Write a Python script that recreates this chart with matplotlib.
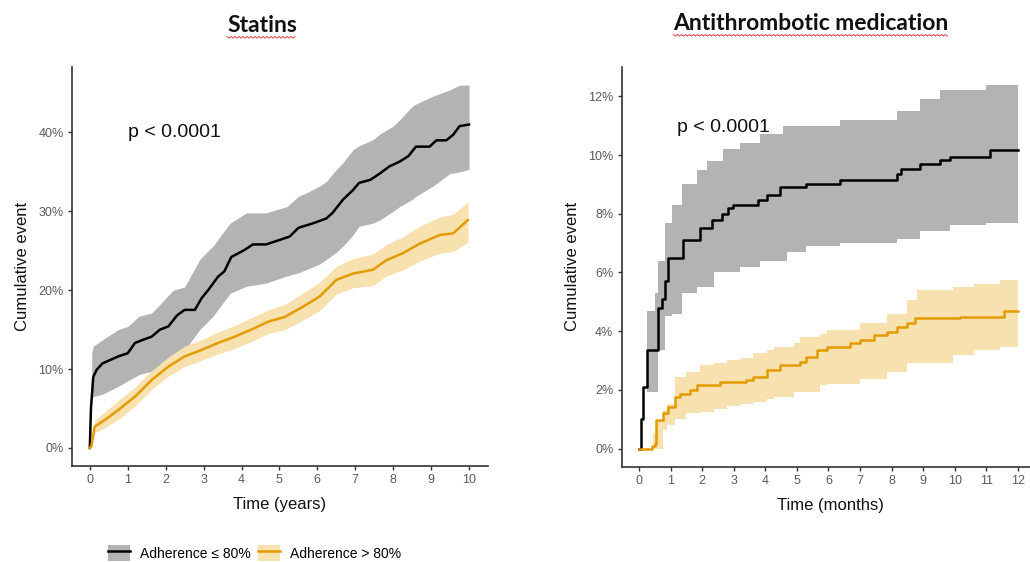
import numpy as np
import matplotlib
matplotlib.use("Agg")
import matplotlib.pyplot as plt
from matplotlib.patches import Patch
from matplotlib.lines import Line2D
from matplotlib.ticker import FuncFormatter

# ---------------- Data ----------------
# Statins (years, cumulative event %)
st_low_t = [0, 0.03, 0.09, 0.18, 0.33, 0.75, 1.0, 1.19, 1.4, 1.63, 1.85, 2.07, 2.3, 2.5, 2.77, 2.95, 3.12,
            3.38, 3.55, 3.73, 4.08, 4.3, 4.65, 4.9, 5.27, 5.5, 5.9, 6.24, 6.4, 6.68, 6.94, 7.1, 7.4, 7.65, 7.9,
            8.17, 8.4, 8.6, 8.96, 9.14, 9.4, 9.58, 9.75, 10.0]
st_low_y = [0, 5.0, 9.0, 9.9, 10.7, 11.6, 12.0, 13.3, 13.7, 14.1, 15.0, 15.4, 16.8, 17.5, 17.5, 19.0, 20.0,
            21.7, 22.4, 24.2, 25.1, 25.8, 25.8, 26.2, 26.8, 27.9, 28.5, 29.1, 29.8, 31.5, 32.7, 33.6, 34.0,
            34.8, 35.7, 36.3, 37.0, 38.2, 38.2, 39.0, 39.0, 39.7, 40.8, 41.0]
st_low_ci_t = [0.05, 0.09, 0.33, 0.75, 1.0, 1.3, 1.63, 1.85, 2.2, 2.5, 2.9, 3.25, 3.7, 4.13, 4.65, 5.2, 5.5,
               5.7, 6.06, 6.24, 6.5, 6.68, 6.94, 7.1, 7.47, 7.65, 8.0, 8.17, 8.5, 8.6, 9.05, 9.5, 9.75, 10.0]
st_low_ci_hi = [12.0, 12.9, 13.7, 15.0, 15.4, 16.7, 17.1, 18.2, 20.0, 20.4, 23.9, 25.6, 28.5, 29.8, 29.8,
                30.6, 31.9, 32.3, 33.2, 33.8, 35.3, 36.2, 37.8, 38.3, 39.1, 39.8, 40.8, 41.6, 43.3, 43.6, 44.6,
                45.4, 46.0, 46.0]
st_low_ci_lo = [6.0, 6.5, 6.8, 7.8, 8.5, 9.3, 9.7, 10.5, 11.2, 12.4, 15.0, 16.7, 19.6, 20.5, 20.9, 21.8,
                22.2, 22.6, 23.3, 23.9, 24.8, 25.6, 27.0, 28.1, 28.5, 28.9, 30.0, 30.6, 31.5, 31.9, 33.2, 34.8,
                35.0, 35.3]

st_high_t = [0, 0.04, 0.13, 0.4, 0.75, 1.19, 1.63, 2.07, 2.5, 2.94, 3.38, 3.82, 4.26, 4.7, 5.14, 5.62, 6.06,
             6.5, 6.94, 7.47, 7.82, 8.26, 8.7, 9.23, 9.58, 9.97]
st_high_y = [0, 0.2, 2.7, 3.55, 4.8, 6.5, 8.6, 10.3, 11.6, 12.4, 13.3, 14.1, 15.0, 16.0, 16.6, 17.9, 19.2,
             21.3, 22.1, 22.6, 23.8, 24.7, 25.9, 27.0, 27.2, 28.9]
st_high_ci_t = [0.04, 0.13, 0.4, 0.75, 1.19, 1.63, 2.07, 2.5, 2.94, 3.38, 3.82, 4.26, 4.7, 5.14, 5.62, 6.06,
                6.5, 6.94, 7.47, 7.82, 8.26, 8.7, 9.23, 9.58, 9.97]
st_high_ci_hi = [0.6, 3.5, 4.6, 6.0, 7.7, 9.8, 11.5, 12.9, 13.7, 14.7, 15.5, 16.5, 17.5, 18.2, 19.6, 21.0,
                 23.0, 24.0, 24.6, 25.8, 26.8, 28.1, 29.3, 29.6, 31.2]
st_high_ci_lo = [0.0, 1.9, 2.6, 3.6, 5.3, 7.4, 9.1, 10.3, 11.1, 11.9, 12.6, 13.5, 14.5, 15.0, 16.2, 17.4,
                 19.5, 20.3, 20.6, 21.8, 22.6, 23.7, 24.7, 24.9, 26.1]

# Antithrombotic medication (months, cumulative event %)
at_low_t = [0, 0.05, 0.14, 0.24, 0.5, 0.6, 0.72, 0.82, 0.93, 1.19, 1.4, 1.83, 1.93, 2.3, 2.62, 2.83, 2.99,
            3.78, 4.05, 4.47, 5.3, 6.37, 8.17, 8.3, 8.9, 9.54, 9.86, 11.12, 12.0]
at_low_y = [0, 1.0, 2.1, 3.35, 3.35, 4.8, 5.1, 5.7, 6.5, 6.5, 7.1, 7.1, 7.5, 7.8, 8.0, 8.2, 8.3, 8.46, 8.63,
            8.9, 9.03, 9.14, 9.37, 9.54, 9.7, 9.82, 9.93, 10.16, 10.16]
at_low_ci_t = [0.24, 0.5, 0.6, 0.82, 1.03, 1.35, 1.83, 2.14, 2.36, 2.67, 3.2, 3.83, 4.57, 4.68, 5.3, 6.37,
               8.17, 8.9, 9.54, 9.86, 11.0, 12.0]
at_low_ci_hi = [4.7, 5.3, 6.4, 7.7, 8.3, 9.0, 9.5, 9.8, 9.8, 10.2, 10.4, 10.7, 11.0, 11.0, 11.0, 11.2, 11.5,
                11.9, 12.2, 12.2, 12.4, 12.4]
at_low_ci_lo = [1.93, 1.93, 3.35, 4.5, 4.6, 5.3, 5.5, 5.5, 6.0, 6.0, 6.2, 6.4, 6.4, 6.7, 6.9, 7.0, 7.15, 7.4,
                7.4, 7.6, 7.7, 7.8]

at_high_t = [0, 0.3, 0.4, 0.5, 0.54, 0.77, 0.93, 1.14, 1.3, 1.6, 1.83, 2.57, 3.4, 3.62, 4.05, 4.47, 5.1, 5.3,
             5.63, 5.95, 6.69, 7.0, 7.43, 7.85, 8.17, 8.48, 8.75, 10.17, 11.55, 12.0]
at_high_y = [0, 0, 0.1, 0.17, 0.96, 1.2, 1.4, 1.76, 1.87, 2.0, 2.16, 2.27, 2.33, 2.44, 2.67, 2.84, 2.95, 3.12,
             3.35, 3.46, 3.58, 3.69, 3.86, 3.97, 4.14, 4.26, 4.43, 4.48, 4.7, 4.7]
at_high_ci_t = [0.45, 0.54, 0.77, 0.88, 1.14, 1.5, 1.93, 2.36, 2.78, 3.2, 3.62, 4.05, 4.26, 4.9, 5.1, 5.74,
                5.95, 7.0, 7.85, 8.48, 8.8, 9.96, 10.6, 11.44, 12.0]
at_high_ci_hi = [0.5, 0.96, 1.3, 1.5, 2.44, 2.6, 2.84, 2.9, 3.0, 3.1, 3.24, 3.35, 3.46, 3.6, 3.8, 3.9, 4.03,
                 4.26, 4.6, 5.05, 5.4, 5.5, 5.6, 5.73, 5.85]
at_high_ci_lo = [0.0, 0.0, 0.62, 0.8, 1.02, 1.2, 1.25, 1.36, 1.45, 1.53, 1.6, 1.7, 1.75, 1.93, 1.93, 2.16,
                 2.2, 2.38, 2.6, 2.9, 2.9, 3.18, 3.35, 3.46, 3.58]

panel_titles = ["Statins", "Antithrombotic medication"]
x_labels = ["Time (years)", "Time (months)"]
y_label = "Cumulative event"
p_text = "p < 0.0001"
legend_labels = ["Adherence \u2264 80%", "Adherence > 80%"]
st_xticks = list(range(0, 11))
st_yticks = [0, 10, 20, 30, 40]
at_xticks = list(range(0, 13))
at_yticks = [0, 2, 4, 6, 8, 10, 12]

# ---------------- Style ----------------
BLACK = "#000000"
GREY_FILL = "#b3b3b3"
ORANGE = "#E39B00"
ORANGE_FILL = "#F7E1AE"
TICKCOL = "#5a5a5a"
AXCOL = "#333333"

plt.rcParams['font.family'] = ['Liberation Sans', 'DejaVu Sans']

fig = plt.figure(figsize=(10.30, 5.62), dpi=100)
W, H = 1030.0, 562.0

ax1 = fig.add_axes([72 / W, 1 - 466 / H, (488 - 72) / W, (466 - 67) / H])
ax2 = fig.add_axes([621.7 / W, 1 - 466.7 / H, 416.6 / W, (466.7 - 67) / H])


def pct(v, pos):
    return f"{int(round(v))}%"


def style(ax, xticks, yticks, xlim, ylim, xlabel):
    ax.set_xlim(*xlim)
    ax.set_ylim(*ylim)
    ax.set_xticks(xticks)
    ax.set_yticks(yticks)
    ax.yaxis.set_major_formatter(FuncFormatter(pct))
    for s in ["top", "right"]:
        ax.spines[s].set_visible(False)
    for s in ["left", "bottom"]:
        ax.spines[s].set_color(AXCOL)
        ax.spines[s].set_linewidth(1.2)
    ax.tick_params(axis="both", colors=AXCOL, labelcolor=TICKCOL, labelsize=9, length=3, width=1.0, pad=3)
    ax.set_xlabel(xlabel, fontsize=12, color="#111111", labelpad=8)
    ax.set_ylabel(y_label, fontsize=12, color="#111111", labelpad=6)


def draw(ax, lt, ly, ct, chi, clo, col, fcol, step):
    if step:
        ax.fill_between(ct, clo, chi, step="post", color=fcol, linewidth=0, zorder=1)
        ax.step(lt, ly, where="post", color=col, linewidth=1.8, zorder=3)
    else:
        ax.fill_between(ct, clo, chi, color=fcol, linewidth=0, zorder=1)
        ax.plot(lt, ly, color=col, linewidth=1.8, zorder=3)


draw(ax1, st_low_t, st_low_y, st_low_ci_t, st_low_ci_hi, st_low_ci_lo, BLACK, GREY_FILL, False)
draw(ax1, st_high_t, st_high_y, st_high_ci_t, st_high_ci_hi, st_high_ci_lo, ORANGE, ORANGE_FILL, False)
draw(ax2, at_low_t, at_low_y, at_low_ci_t, at_low_ci_hi, at_low_ci_lo, BLACK, GREY_FILL, True)
draw(ax2, at_high_t, at_high_y, at_high_ci_t, at_high_ci_hi, at_high_ci_lo, ORANGE, ORANGE_FILL, True)

style(ax1, st_xticks, st_yticks, (-0.47, 10.5), (-2.3, 48.3), x_labels[0])
style(ax2, at_xticks, at_yticks, (-0.55, 12.65), (-0.62, 13.0), x_labels[1])

ax1.text(1.0, 40, p_text, fontsize=14, va="center", ha="left", color="#111111")
ax2.text(1.19, 10.95, p_text, fontsize=14, va="center", ha="left", color="#111111")

# Titles
t1 = fig.text(262 / W, 1 - 25 / H, panel_titles[0], fontsize=16.5, fontweight="bold",
              family=["Lato", "DejaVu Sans"], ha="center", va="center", color="#111111")
t2 = fig.text(811 / W, 1 - 23 / H, panel_titles[1], fontsize=16.5, fontweight="bold",
              family=["Lato", "DejaVu Sans"], ha="center", va="center", color="#111111")

# Legend
handles = [(Patch(facecolor=GREY_FILL, edgecolor="none"), Line2D([], [], color=BLACK, lw=1.8)),
           (Patch(facecolor=ORANGE_FILL, edgecolor="none"), Line2D([], [], color=ORANGE, lw=1.8))]
fig.legend(handles, legend_labels, loc="center left", bbox_to_anchor=(108 / W, 1 - 553 / H), ncol=2,
           frameon=False, fontsize=10, handlelength=1.6, handleheight=1.4, handletextpad=0.7,
           columnspacing=0.5, borderaxespad=0, borderpad=0)

# red spellcheck-like wavy underline under titles
fig.canvas.draw()
r = fig.canvas.get_renderer()
for t in (t1, t2):
    bb = t.get_window_extent(r)
    xs = np.arange(bb.x0, bb.x1, 2.0)
    base = bb.y0 - 1.0
    ys = base + np.where((np.arange(len(xs)) % 2) == 0, 0.0, -1.6)
    fig.add_artist(Line2D(xs / W, ys / H, transform=fig.transFigure, color="#e04040", lw=0.7))

fig.savefig("out.png", dpi=100)
